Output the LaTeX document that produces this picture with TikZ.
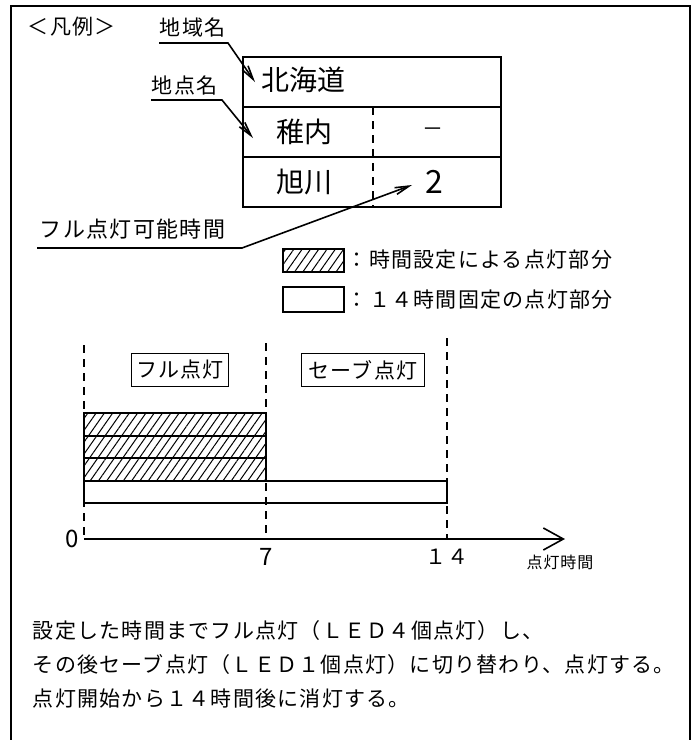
\documentclass[tikz,border=0pt]{standalone}
\usepackage{fontspec}
\setmainfont{Noto Sans CJK JP}[LetterSpace=6]
\newfontfamily\tablefont{Noto Sans CJK JP}
\usetikzlibrary{arrows.meta,patterns.meta}

\begin{document}
\begin{tikzpicture}[x=0.5pt,y=-0.5pt,line width=0.8pt,
  txt/.style={inner sep=0pt,font=\fontsize{10.5}{12}\selectfont},
  cell/.style={inner sep=0pt,font=\tablefont\fontsize{14}{16}\selectfont},
  lead/.style={-{Straight Barb[length=7pt,width=3.5pt]}},
  sep/.style={dash pattern=on 4pt off 3pt},
  hatch/.style={draw,pattern={Lines[angle=55,distance=3.4pt,line width=0.5pt]}}]
   \useasboundingbox (0,0) rectangle (696,740);
   \draw[line width=1pt] (11,740) -- (11,6) -- (690,6) -- (690,740);
   % legend
   \node[txt,anchor=west] (legend) at (27,27) {＜凡例＞};
   \node[txt,anchor=west] (areaname) at (159,28) {地域名};
   \node[txt,anchor=west] (spotname) at (151,86) {地点名};
   \coordinate (areaul) at (159,43);
   \coordinate (areaur) at (228,43);
   \coordinate (areatip) at (255,82);
   \coordinate (spotul) at (151,100);
   \coordinate (spotur) at (222,100);
   \coordinate (spottip) at (253,138);
   \draw[lead] (areaul) -- (areaur) -- (areatip);
   \draw[lead] (spotul) -- (spotur) -- (spottip);
   \draw (243,57) rectangle (501,207);
   \draw (243,107) -- (501,107);
   \draw (243,157) -- (501,157);
   \draw[sep] (373,107) -- (373,207);
   \node[cell,anchor=west] (region) at (261,80) {北海道};
   \node[cell] (spot1) at (304,132) {稚内};
   \node[txt] (hours1) at (433,132) {－};
   \node[cell] (spot2) at (304,182) {旭川};
   \node[cell,font=\tablefont\fontsize{16}{18}\selectfont] (hours2) at (434,182) {2};
   \node[txt,anchor=west,font=\fontsize{11}{13}\selectfont] (fulltime) at (39,229) {フル点灯可能時間};
   \coordinate (ftl) at (37,248);
   \coordinate (ftr) at (242,248);
   \coordinate (fttip) at (412,185);
   \draw[lead] (ftl) -- (ftr) -- (fttip);
   \draw[hatch] (283,249) rectangle (344,272);
   \node[txt,anchor=west] (keyset) at (346,260) {：時間設定による点灯部分};
   \draw (283,287) rectangle (344,312);
   \node[txt,anchor=west] (keyfix) at (346,300) {：１４時間固定の点灯部分};
   % chart
   \foreach \x/\t in {84/345,266/343,447/338}
      \draw[sep] (\x,\t) -- (\x,539);
   \node[txt,draw,minimum width=48.5pt,minimum height=16.5pt] (fullbox) at (180,370) {フル点灯};
   \node[txt,draw,minimum width=61.5pt,minimum height=16.5pt] (savebox) at (363,370) {セーブ点灯};
   \foreach \a/\b in {413/436,436/458,458/481}
      \draw[hatch] (84,\a) rectangle (266,\b);
   \draw (84,481) rectangle (447,503);
   \coordinate (origin) at (84,539);
   \coordinate (tend) at (565,539);
   \draw[-{Straight Barb[length=10pt,width=11pt]}] (origin) -- (tend);
   \node[txt,font=\fontsize{12}{14}\selectfont] (zero) at (72,539) {0};
   \node[txt,font=\fontsize{12}{14}\selectfont] (seven) at (266,557) {7};
   \node[txt] (fourteen) at (447,557) {１４};
   \node[inner sep=0pt,font=\fontsize{8}{10}\selectfont] (axislabel) at (560,562) {点灯時間};
   % notes
   \node[txt,anchor=west] (note1) at (32,631) {設定した時間までフル点灯（ＬＥＤ４個点灯）し、};
   \node[txt,anchor=west] (note2) at (32,665) {その後セーブ点灯（ＬＥＤ１個点灯）に切り替わり、点灯する。};
   \node[txt,anchor=west] (note3) at (32,699) {点灯開始から１４時間後に消灯する。};
\end{tikzpicture}
\end{document}
